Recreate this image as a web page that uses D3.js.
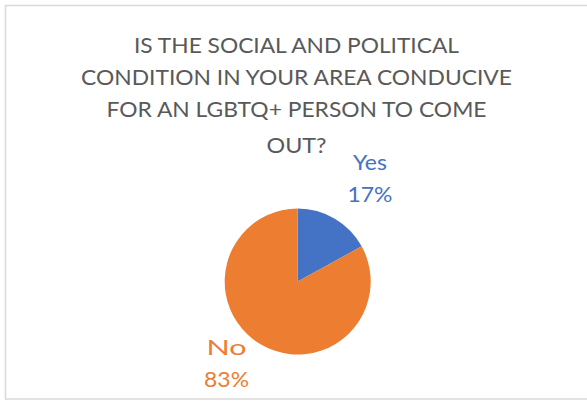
<!DOCTYPE html>
<html>
<head>
<meta charset="utf-8">
<script src="https://cdn.jsdelivr.net/npm/d3@7/dist/d3.min.js"></script>
<style>
  html, body { margin: 0; padding: 0; background: #fff; }
  svg { display: block; }
  text { font-family: Lato, "Open Sans", sans-serif; }
</style>
</head>
<body>
<svg id="chart" width="587" height="401"></svg>
<script>
// Survey answers
const categories = ["Yes", "No"];
const values = [17, 83];
const colors = ["#4472C4", "#ED7D31"];
const titleLines = [
  "IS THE SOCIAL AND POLITICAL",
  "CONDITION IN YOUR AREA CONDUCIVE",
  "FOR AN LGBTQ+ PERSON TO COME",
  "OUT?"
];

// Layout
const W = 587, H = 401;
const cx = 297.7, cy = 281.5, R = 73;
const titleX = 296.5;
const titleBaselines = [52.7, 85, 117.3, 152.5];
const titleWidths = [325, 431, 380, 60];
const labelLayout = {
  Yes: { rho: 115, nudge: [13.7, 3.4], widths: [34, 45] },
  No:  { rho: 105, nudge: [-17.7, -1.0], widths: [40, 45] }
};
const labelGap = 15.85;

const svg = d3.select("#chart");

// chart area frame
svg.append("rect")
  .attr("x", 5.5).attr("y", 5.5)
  .attr("width", W + 10).attr("height", 393.5)
  .attr("fill", "#fff")
  .attr("stroke", "#d9d9d9")
  .attr("stroke-width", 1.5);

// title
svg.append("g").selectAll("text")
  .data(titleLines)
  .join("text")
  .attr("x", titleX)
  .attr("y", (d, i) => titleBaselines[i])
  .attr("text-anchor", "middle")
  .attr("font-size", 21)
  .attr("fill", "#595959")
  .attr("textLength", (d, i) => titleWidths[i])
  .attr("lengthAdjust", "spacingAndGlyphs")
  .text(d => d);

const data = categories.map((c, i) => ({ name: c, value: values[i], color: colors[i] }));

const pie = d3.pie().sort(null).value(d => d.value);
const arcs = pie(data);
const arc = d3.arc().innerRadius(0).outerRadius(R);
const total = d3.sum(values);

const g = svg.append("g").attr("transform", `translate(${cx},${cy})`);

g.selectAll("path")
  .data(arcs)
  .join("path")
  .attr("d", arc)
  .attr("fill", d => d.data.color);

// data labels: category and percentage
const labels = g.selectAll("g.label")
  .data(arcs)
  .join("g")
  .attr("class", "label")
  .attr("transform", d => {
    const L = labelLayout[d.data.name];
    const a = (d.startAngle + d.endAngle) / 2;
    const x = L.rho * Math.sin(a) + L.nudge[0];
    const y = -L.rho * Math.cos(a) + L.nudge[1];
    return `translate(${x},${y})`;
  });

labels.each(function(d) {
  const L = labelLayout[d.data.name];
  const sel = d3.select(this);
  const pct = Math.round(d.data.value / total * 100) + "%";
  [d.data.name, pct].forEach((t, i) => {
    sel.append("text")
      .attr("x", 0)
      .attr("y", i === 0 ? -labelGap : labelGap)
      .attr("text-anchor", "middle")
      .attr("font-size", 21)
      .attr("fill", d.data.color)
      .attr("textLength", L.widths[i])
      .attr("lengthAdjust", "spacingAndGlyphs")
      .text(t);
  });
});
</script>
</body>
</html>
